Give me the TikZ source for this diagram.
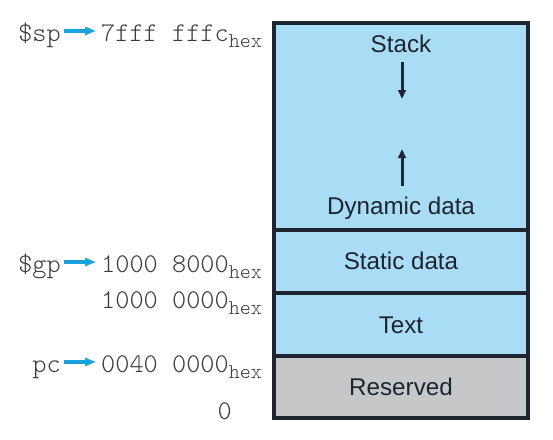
\documentclass[tikz,border=0pt]{standalone}
\usepackage{fontspec}
\setsansfont{Liberation Sans}
\setmonofont{Latin Modern Mono Light}
\usetikzlibrary{arrows.meta,calc}
\definecolor{segblue}{HTML}{A9DDF6}
\definecolor{seggray}{HTML}{C6C7C9}
\definecolor{ink}{HTML}{1E2530}
\definecolor{arrcyan}{HTML}{1BA3E0}
\definecolor{monoink}{HTML}{3A3A3A}
\newcommand\hexsub{\raisebox{-6.5pt}{\fontsize{21}{21}\selectfont hex}}
\begin{document}
\begin{tikzpicture}[x=1pt,y=-1pt,
  seglabel/.style={font=\sffamily\fontsize{24.2}{24.2}\selectfont, text=ink, inner sep=0, anchor=base},
  addr/.style={font=\ttfamily\fontsize{27}{27}\selectfont, text=monoink, inner sep=0, anchor=base west},
  reg/.style={font=\ttfamily\fontsize{27}{27}\selectfont, text=monoink, inner sep=0, anchor=base east},
  ptr/.style={arrcyan, line width=3.2pt, -{Triangle[length=11pt,width=8pt]}},
  growth/.style={ink, line width=3pt, -{Triangle[length=9pt,width=7.5pt]}},
  seg/.style={draw=ink, line width=3.2pt}]
\useasboundingbox (0,0) rectangle (553,439);
% segments
\fill[segblue] (274,23) rectangle (528,356);
\fill[seggray] (274,356) rectangle (528,418);
\draw[seg] (274,230) -- (528,230);
\draw[seg] (274,293) -- (528,293);
\draw[seg] (274,356) -- (528,356);
\draw[seg] (274,23) rectangle (528,418);
% segment labels
\node[seglabel] (stack) at (401,52) {Stack};
\node[seglabel] (dyn) at (401,214) {Dynamic data};
\node[seglabel] (static) at (401,269) {Static data};
\node[seglabel] (text) at (401,333) {Text};
\node[seglabel] (res) at (401,395) {Reserved};
\coordinate (sdA) at (402,62);
\coordinate (sdB) at (402,99);
\coordinate (duA) at (402,186);
\coordinate (duB) at (402,149);
\draw[growth] (sdA) -- (sdB);
\draw[growth] (duA) -- (duB);
% addresses
\node[addr] (a1) at (101,41) {7fff fffc\hexsub};
\node[addr] (a2) at (101,272) {1000 8000\hexsub};
\node[addr] (a3) at (101,308) {1000 0000\hexsub};
\node[addr] (a4) at (101,372) {0040 0000\hexsub};
\node[reg] (a5) at (232,419) {0};
% registers
\node[reg] (sp) at (61,41) {\$sp};
\node[reg] (gp) at (61,272) {\$gp};
\node[reg] (pc) at (61,372) {pc};
\draw[ptr] ([xshift=3pt,yshift=10pt]sp.base east) -- ([xshift=-5pt,yshift=10pt]a1.base west);
\draw[ptr] ([xshift=3pt,yshift=10pt]gp.base east) -- ([xshift=-5pt,yshift=10pt]a2.base west);
\draw[ptr] ([xshift=3pt,yshift=10pt]pc.base east) -- ([xshift=-5pt,yshift=10pt]a4.base west);
\end{tikzpicture}
\end{document}
